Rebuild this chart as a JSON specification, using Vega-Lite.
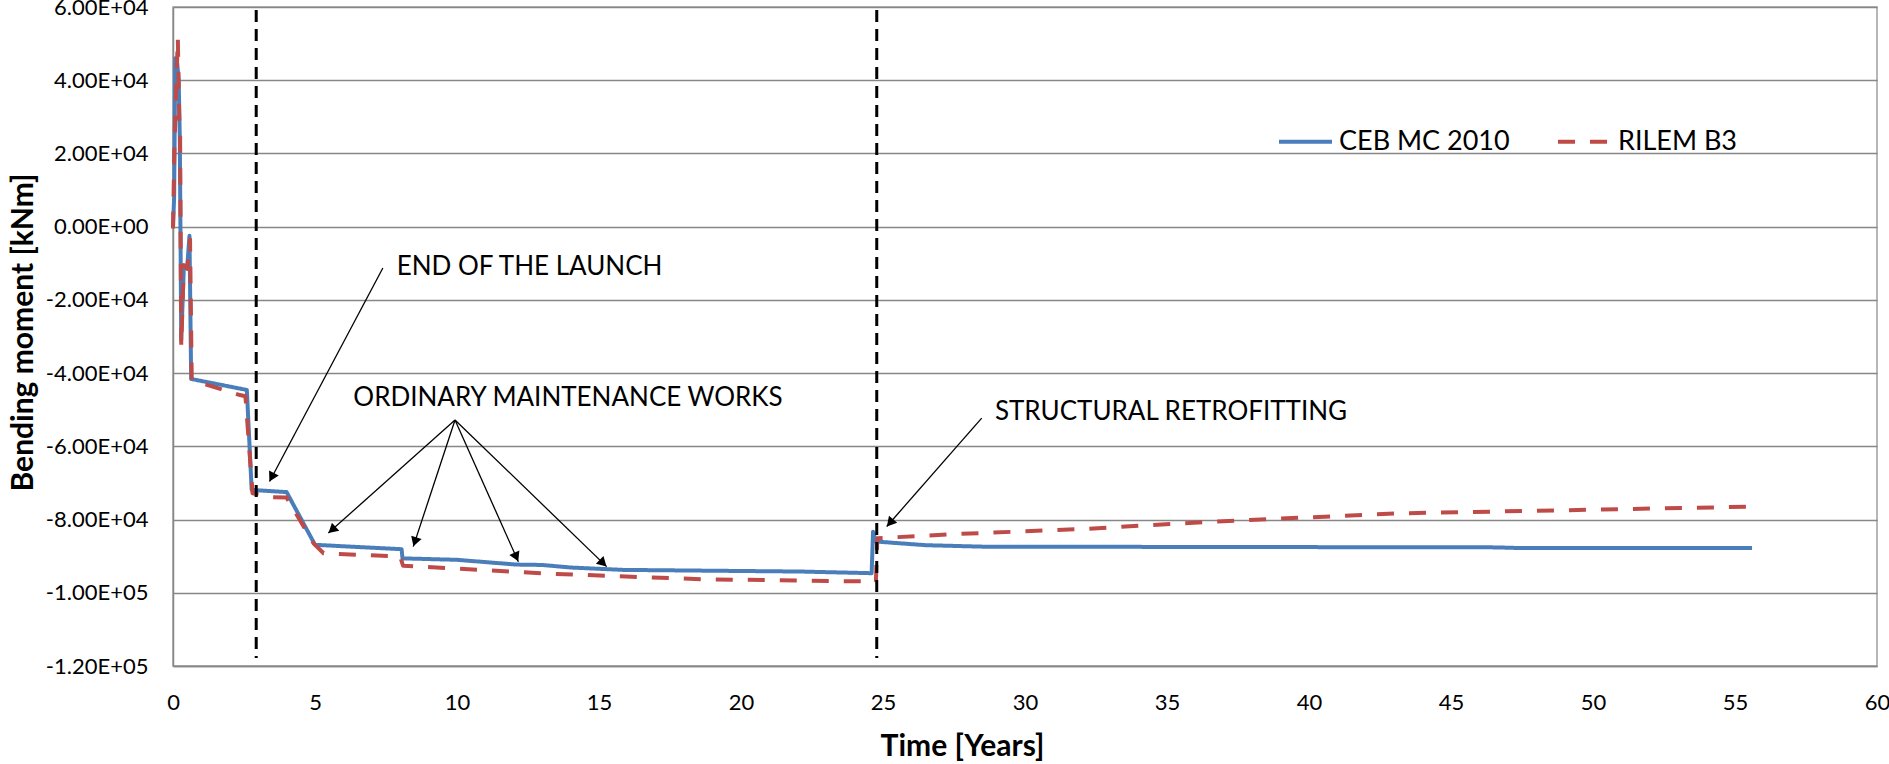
{
  "$schema": "https://vega.github.io/schema/vega-lite/v6.json",
  "width": 1704,
  "height": 659,
  "autosize": {"type": "none"},
  "padding": {"left": 173, "top": 7, "right": 12, "bottom": 98},
  "background": "white",
  "config": {
    "view": {"stroke": "#a0a0a0", "strokeWidth": 1.5},
    "font": "Lato"
  },
  "datasets": {
    "series": [
      {"series": "CEB MC 2010", "t": 0, "v": 0},
      {"series": "CEB MC 2010", "t": 0.04, "v": 8000},
      {"series": "CEB MC 2010", "t": 0.08, "v": 46000},
      {"series": "CEB MC 2010", "t": 0.15, "v": 44500},
      {"series": "CEB MC 2010", "t": 0.2, "v": 40000},
      {"series": "CEB MC 2010", "t": 0.24, "v": 24000},
      {"series": "CEB MC 2010", "t": 0.29, "v": -31000},
      {"series": "CEB MC 2010", "t": 0.38, "v": -11500},
      {"series": "CEB MC 2010", "t": 0.5, "v": -11000},
      {"series": "CEB MC 2010", "t": 0.58, "v": -2500},
      {"series": "CEB MC 2010", "t": 0.64, "v": -41600},
      {"series": "CEB MC 2010", "t": 2.6, "v": -44600},
      {"series": "CEB MC 2010", "t": 2.77, "v": -71900},
      {"series": "CEB MC 2010", "t": 4.0, "v": -72500},
      {"series": "CEB MC 2010", "t": 5.0, "v": -86900},
      {"series": "CEB MC 2010", "t": 8.05, "v": -88100},
      {"series": "CEB MC 2010", "t": 8.08, "v": -90600},
      {"series": "CEB MC 2010", "t": 10.0, "v": -91000},
      {"series": "CEB MC 2010", "t": 12.1, "v": -92300},
      {"series": "CEB MC 2010", "t": 13.0, "v": -92400},
      {"series": "CEB MC 2010", "t": 14.0, "v": -93100},
      {"series": "CEB MC 2010", "t": 15.85, "v": -93750},
      {"series": "CEB MC 2010", "t": 22.1, "v": -94200},
      {"series": "CEB MC 2010", "t": 24.6, "v": -94650},
      {"series": "CEB MC 2010", "t": 24.65, "v": -83300},
      {"series": "CEB MC 2010", "t": 24.75, "v": -86000},
      {"series": "CEB MC 2010", "t": 26.5, "v": -87000},
      {"series": "CEB MC 2010", "t": 28.5, "v": -87400},
      {"series": "CEB MC 2010", "t": 46.6, "v": -87600},
      {"series": "CEB MC 2010", "t": 47.5, "v": -87800},
      {"series": "CEB MC 2010", "t": 55.6, "v": -87800},
      {"series": "RILEM B3", "t": 0, "v": -500},
      {"series": "RILEM B3", "t": 0.05, "v": 22000},
      {"series": "RILEM B3", "t": 0.17, "v": 51500},
      {"series": "RILEM B3", "t": 0.22, "v": 30000},
      {"series": "RILEM B3", "t": 0.25, "v": 25000},
      {"series": "RILEM B3", "t": 0.29, "v": -32500},
      {"series": "RILEM B3", "t": 0.38, "v": -10500},
      {"series": "RILEM B3", "t": 0.5, "v": -11500},
      {"series": "RILEM B3", "t": 0.6, "v": -3500},
      {"series": "RILEM B3", "t": 0.66, "v": -41900},
      {"series": "RILEM B3", "t": 2.36, "v": -46000},
      {"series": "RILEM B3", "t": 2.55, "v": -46300},
      {"series": "RILEM B3", "t": 2.8, "v": -72800},
      {"series": "RILEM B3", "t": 3.5, "v": -73900},
      {"series": "RILEM B3", "t": 4.0, "v": -74000},
      {"series": "RILEM B3", "t": 4.95, "v": -86500},
      {"series": "RILEM B3", "t": 5.3, "v": -89200},
      {"series": "RILEM B3", "t": 8.0, "v": -90100},
      {"series": "RILEM B3", "t": 8.1, "v": -92600},
      {"series": "RILEM B3", "t": 12.1, "v": -94300},
      {"series": "RILEM B3", "t": 13.3, "v": -94800},
      {"series": "RILEM B3", "t": 18.6, "v": -96300},
      {"series": "RILEM B3", "t": 24.4, "v": -96900},
      {"series": "RILEM B3", "t": 24.75, "v": -97000},
      {"series": "RILEM B3", "t": 24.8, "v": -85100},
      {"series": "RILEM B3", "t": 27.4, "v": -84000},
      {"series": "RILEM B3", "t": 32, "v": -82600},
      {"series": "RILEM B3", "t": 35.6, "v": -81000},
      {"series": "RILEM B3", "t": 37.9, "v": -80100},
      {"series": "RILEM B3", "t": 43.2, "v": -78300},
      {"series": "RILEM B3", "t": 55.5, "v": -76500}
    ],
    "events": [
      {"event": "End of the launch", "t": 2.93},
      {"event": "Structural retrofitting", "t": 24.78}
    ],
    "arrows": [
      {"id": "launch", "t": 7.39, "v": -11300, "t2": 3.40, "v2": -69600},
      {"id": "m1", "t": 9.93, "v": -52800, "t2": 5.468, "v2": -83700},
      {"id": "m2", "t": 9.93, "v": -52800, "t2": 8.46, "v2": -87400},
      {"id": "m3", "t": 9.93, "v": -52800, "t2": 12.16, "v2": -91500},
      {"id": "m4", "t": 9.93, "v": -52800, "t2": 15.27, "v2": -92850},
      {"id": "retro", "t": 28.475, "v": -52300, "t2": 25.13, "v2": -81900}
    ],
    "heads": [
      {"id": "launch", "t": 3.474, "v": -68440},
      {"id": "m1", "t": 5.6, "v": -82830},
      {"id": "m2", "t": 8.518, "v": -86090},
      {"id": "m3", "t": 12.088, "v": -90230},
      {"id": "m4", "t": 15.144, "v": -91900},
      {"id": "retro", "t": 25.246, "v": -80890}
    ],
    "labels": [
      {"label": "END OF THE LAUNCH", "t": 7.877, "v": -13200},
      {"label": "ORDINARY MAINTENANCE WORKS", "t": 6.35, "v": -49000},
      {"label": "STRUCTURAL RETROFITTING", "t": 28.94, "v": -52800}
    ]
  },
  "layer": [
    {
      "data": {"name": "series"},
      "mark": {"type": "line", "strokeWidth": 4, "strokeJoin": "round"},
      "encoding": {
        "x": {
          "field": "t", "type": "quantitative", "title": "Time [Years]",
          "scale": {"domain": [0, 60], "nice": false, "zero": false},
          "axis": {
            "values": [0, 5, 10, 15, 20, 25, 30, 35, 40, 45, 50, 55, 60],
            "grid": false, "ticks": false, "tickSize": 0,
            "domainColor": "#878787", "domainWidth": 1.5,
            "labelFont": "Lato", "labelFontSize": 22, "labelColor": "black",
            "labelBaseline": "middle", "labelPadding": 36,
            "labelFlush": false, "labelOverlap": false, "labelBound": false,
            "titleFont": "Lato", "titleFontSize": 30, "titleFontWeight": "bold", "titleColor": "black",
            "titleX": 789, "titleY": 89, "titleAlign": "center", "titleBaseline": "alphabetic"
          }
        },
        "y": {
          "field": "v", "type": "quantitative", "title": "Bending moment [kNm]",
          "scale": {"domain": [-120000, 60000], "nice": false, "zero": false},
          "axis": {
            "values": [-120000, -100000, -80000, -60000, -40000, -20000, 0, 20000, 40000, 60000],
            "grid": true, "gridColor": "#878787", "gridWidth": 1.5,
            "ticks": false, "tickSize": 0,
            "domainColor": "#878787", "domainWidth": 1.5,
            "labelFont": "Lato", "labelFontSize": 22, "labelColor": "black",
            "labelPadding": 25, "labelFlush": false, "labelOverlap": false, "labelBound": false,
            "labelExpr": "replace(replace(format(datum.value, '.2e'), 'e+', 'E+0'), '\u2212', '-')",
            "titleFont": "Lato", "titleFontSize": 30, "titleFontWeight": "bold", "titleColor": "black",
            "titleX": -141, "titleY": 325, "titleAngle": 270, "titleAlign": "center", "titleBaseline": "alphabetic"
          }
        },
        "color": {
          "field": "series", "type": "nominal",
          "scale": {"domain": ["CEB MC 2010", "RILEM B3"], "range": ["#4A7EBB", "#BE4B48"]},
          "legend": {
            "title": null, "orient": "none", "direction": "horizontal",
            "legendX": 1104, "legendY": 106,
            "symbolType": "stroke", "symbolSize": 2809, "symbolStrokeWidth": 4,
            "labelFont": "Lato", "labelFontSize": 27, "labelColor": "black", "labelLimit": 400,
            "labelOffset": 5, "columnPadding": 40
          }
        },
        "strokeDash": {
          "field": "series", "type": "nominal",
          "scale": {"domain": ["CEB MC 2010", "RILEM B3"], "range": [[1, 0], [17, 15]]},
          "legend": {
            "title": null, "orient": "none", "direction": "horizontal",
            "legendX": 1104, "legendY": 106,
            "symbolType": "stroke", "symbolSize": 2809, "symbolStrokeWidth": 4,
            "labelFont": "Lato", "labelFontSize": 27, "labelColor": "black", "labelLimit": 400,
            "labelOffset": 5, "columnPadding": 40
          }
        }
      }
    },
    {
      "data": {"name": "events"},
      "mark": {"type": "rule", "color": "black", "strokeWidth": 3, "strokeDash": [12, 7]},
      "encoding": {
        "x": {"field": "t", "type": "quantitative", "title": "Time [Years]"},
        "y": {"datum": 59200, "type": "quantitative"},
        "y2": {"datum": -117800}
      }
    },
    {
      "data": {"name": "arrows"},
      "mark": {"type": "rule", "color": "black", "strokeWidth": 1.3},
      "encoding": {
        "x": {"field": "t", "type": "quantitative", "title": "Time [Years]"},
        "y": {"field": "v", "type": "quantitative", "title": "Bending moment [kNm]"},
        "x2": {"field": "t2"},
        "y2": {"field": "v2"}
      }
    },
    {
      "data": {"name": "heads"},
      "transform": [{"filter": "datum.id == 'launch'"}],
      "mark": {"type": "point", "shape": "triangle-up", "filled": true, "color": "black", "opacity": 1, "size": 120, "angle": 208},
      "encoding": {
        "x": {"field": "t", "type": "quantitative", "title": "Time [Years]"},
        "y": {"field": "v", "type": "quantitative", "title": "Bending moment [kNm]"}
      }
    },
    {
      "data": {"name": "heads"},
      "transform": [{"filter": "datum.id == 'm1'"}],
      "mark": {"type": "point", "shape": "triangle-up", "filled": true, "color": "black", "opacity": 1, "size": 120, "angle": 228.2},
      "encoding": {
        "x": {"field": "t", "type": "quantitative", "title": "Time [Years]"},
        "y": {"field": "v", "type": "quantitative", "title": "Bending moment [kNm]"}
      }
    },
    {
      "data": {"name": "heads"},
      "transform": [{"filter": "datum.id == 'm2'"}],
      "mark": {"type": "point", "shape": "triangle-up", "filled": true, "color": "black", "opacity": 1, "size": 120, "angle": 198.2},
      "encoding": {
        "x": {"field": "t", "type": "quantitative", "title": "Time [Years]"},
        "y": {"field": "v", "type": "quantitative", "title": "Bending moment [kNm]"}
      }
    },
    {
      "data": {"name": "heads"},
      "transform": [{"filter": "datum.id == 'm3'"}],
      "mark": {"type": "point", "shape": "triangle-up", "filled": true, "color": "black", "opacity": 1, "size": 120, "angle": 155.9},
      "encoding": {
        "x": {"field": "t", "type": "quantitative", "title": "Time [Years]"},
        "y": {"field": "v", "type": "quantitative", "title": "Bending moment [kNm]"}
      }
    },
    {
      "data": {"name": "heads"},
      "transform": [{"filter": "datum.id == 'm4'"}],
      "mark": {"type": "point", "shape": "triangle-up", "filled": true, "color": "black", "opacity": 1, "size": 120, "angle": 134},
      "encoding": {
        "x": {"field": "t", "type": "quantitative", "title": "Time [Years]"},
        "y": {"field": "v", "type": "quantitative", "title": "Bending moment [kNm]"}
      }
    },
    {
      "data": {"name": "heads"},
      "transform": [{"filter": "datum.id == 'retro'"}],
      "mark": {"type": "point", "shape": "triangle-up", "filled": true, "color": "black", "opacity": 1, "size": 120, "angle": 221.2},
      "encoding": {
        "x": {"field": "t", "type": "quantitative", "title": "Time [Years]"},
        "y": {"field": "v", "type": "quantitative", "title": "Bending moment [kNm]"}
      }
    },
    {
      "data": {"name": "labels"},
      "mark": {"type": "text", "align": "left", "baseline": "alphabetic", "font": "Lato", "fontSize": 26, "color": "black"},
      "encoding": {
        "x": {"field": "t", "type": "quantitative", "title": "Time [Years]"},
        "y": {"field": "v", "type": "quantitative", "title": "Bending moment [kNm]"},
        "text": {"field": "label"}
      }
    }
  ]
}
